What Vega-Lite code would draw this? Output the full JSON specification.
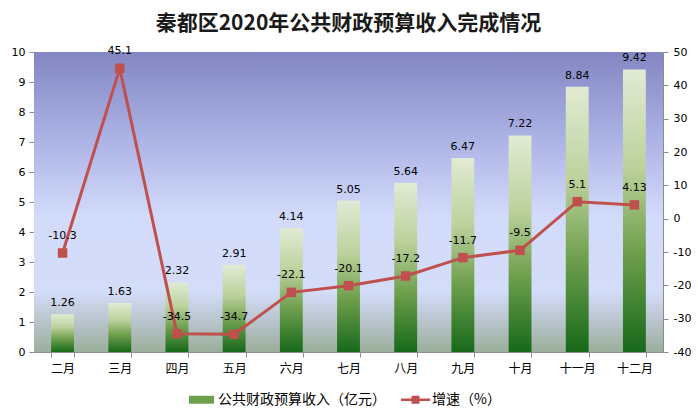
{
  "$schema": "https://vega.github.io/schema/vega-lite/v6.json",
  "width": 629,
  "height": 300,
  "autosize": "none",
  "padding": {"left": 34, "top": 52, "right": 35, "bottom": 63},
  "background": "white",
  "config": {
    "view": {"stroke": null},
    "font": "Noto Sans CJK SC",
    "locale": {
      "number": {"decimal": ".", "thousands": ",", "grouping": [3], "currency": ["$", ""], "minus": "-"}
    },
    "axis": {
      "domainColor": "#8c8c8c",
      "tickColor": "#8c8c8c",
      "tickSize": 5,
      "labelColor": "#000000",
      "labelFontSize": 11,
      "labelFont": "DejaVu Sans",
      "titleFontSize": 12
    }
  },
  "title": {
    "text": "秦都区2020年公共财政预算收入完成情况",
    "font": "Noto Sans CJK SC",
    "fontSize": 21,
    "fontWeight": "bold",
    "color": "#1a1a1a",
    "anchor": "middle",
    "offset": 11
  },
  "datasets": {
    "rows": [
      {"month": "二月", "series": "公共财政预算收入（亿元）", "value": 1.26},
      {"month": "三月", "series": "公共财政预算收入（亿元）", "value": 1.63},
      {"month": "四月", "series": "公共财政预算收入（亿元）", "value": 2.32},
      {"month": "五月", "series": "公共财政预算收入（亿元）", "value": 2.91},
      {"month": "六月", "series": "公共财政预算收入（亿元）", "value": 4.14},
      {"month": "七月", "series": "公共财政预算收入（亿元）", "value": 5.05},
      {"month": "八月", "series": "公共财政预算收入（亿元）", "value": 5.64},
      {"month": "九月", "series": "公共财政预算收入（亿元）", "value": 6.47},
      {"month": "十月", "series": "公共财政预算收入（亿元）", "value": 7.22},
      {"month": "十一月", "series": "公共财政预算收入（亿元）", "value": 8.84},
      {"month": "十二月", "series": "公共财政预算收入（亿元）", "value": 9.42},
      {"month": "二月", "series": "增速（%）", "value": -10.3},
      {"month": "三月", "series": "增速（%）", "value": 45.1},
      {"month": "四月", "series": "增速（%）", "value": -34.5},
      {"month": "五月", "series": "增速（%）", "value": -34.7},
      {"month": "六月", "series": "增速（%）", "value": -22.1},
      {"month": "七月", "series": "增速（%）", "value": -20.1},
      {"month": "八月", "series": "增速（%）", "value": -17.2},
      {"month": "九月", "series": "增速（%）", "value": -11.7},
      {"month": "十月", "series": "增速（%）", "value": -9.5},
      {"month": "十一月", "series": "增速（%）", "value": 5.1},
      {"month": "十二月", "series": "增速（%）", "value": 4.13}
    ]
  },
  "data": {"name": "rows"},
  "encoding": {
    "x": {
      "field": "month",
      "type": "nominal",
      "sort": null,
      "title": null,
      "scale": {"paddingInner": 0.6, "paddingOuter": 0.3},
      "axis": {
        "labelAngle": 0,
        "labelFont": "Noto Sans CJK SC",
        "labelFontSize": 12,
        "labelPadding": 6,
        "tickBand": "extent",
        "domainColor": "#8c8c8c"
      }
    }
  },
  "layer": [
    {
      "data": {"values": [{}]},
      "mark": {
        "type": "rect",
        "color": {
          "gradient": "linear",
          "x1": 0, "y1": 0, "x2": 0, "y2": 1,
          "stops": [
            {"offset": 0, "color": "#8386c2"},
            {"offset": 0.3, "color": "#adb4e6"},
            {"offset": 0.55, "color": "#d3dbfb"},
            {"offset": 0.8, "color": "#d3dcf8"},
            {"offset": 0.9, "color": "#b8c4cc"},
            {"offset": 1, "color": "#9bae9a"}
          ]
        }
      },
      "encoding": {"x": {"value": 0}, "x2": {"value": 629}, "y": {"value": 0}, "y2": {"value": 300}}
    },
    {
      "transform": [{"filter": "datum.series === '公共财政预算收入（亿元）'"}],
      "encoding": {
        "y": {
          "field": "value",
          "type": "quantitative",
          "title": null,
          "scale": {"domain": [0, 10], "nice": false},
          "axis": {
            "values": [0, 1, 2, 3, 4, 5, 6, 7, 8, 9, 10],
            "grid": true,
            "gridColor": "#ffffff",
            "gridOpacity": 0.55,
            "labelPadding": 4
          }
        }
      },
      "layer": [
        {
          "mark": {
            "type": "bar",
            "color": {
              "gradient": "linear",
              "x1": 0, "y1": 0, "x2": 0, "y2": 1,
              "stops": [
                {"offset": 0, "color": "#e1ebd4"},
                {"offset": 0.35, "color": "#bcd19c"},
                {"offset": 0.65, "color": "#6e9f4c"},
                {"offset": 1, "color": "#16691a"}
              ]
            }
          }
        },
        {
          "mark": {"type": "text", "dy": -11, "fontSize": 11, "font": "DejaVu Sans", "color": "#000000"},
          "encoding": {"text": {"field": "value", "type": "quantitative", "format": ".2f"}}
        }
      ]
    },
    {
      "encoding": {
        "y": {
          "field": "value",
          "type": "quantitative",
          "title": null,
          "scale": {"domain": [-40, 50], "nice": false},
          "axis": {
            "orient": "right",
            "values": [-40, -30, -20, -10, 0, 10, 20, 30, 40, 50],
            "grid": false,
            "labelPadding": 5
          }
        }
      },
      "layer": [
        {
          "transform": [{"filter": "datum.series === '增速（%）'"}],
          "mark": {"type": "line", "color": "#c0504d", "strokeWidth": 3}
        },
        {
          "transform": [{"filter": "datum.series === '增速（%）'"}],
          "mark": {"type": "point", "shape": "square", "filled": true, "opacity": 1, "size": 90, "color": "#c0504d"}
        },
        {
          "transform": [{"filter": "datum.series === '增速（%）'"}],
          "mark": {"type": "text", "dy": -17, "fontSize": 11, "font": "DejaVu Sans", "color": "#000000"},
          "encoding": {"text": {"field": "value", "type": "quantitative", "format": "~g"}}
        },
        {
          "mark": {"type": "point", "filled": true, "opacity": 0},
          "encoding": {
            "color": {
              "field": "series",
              "type": "nominal",
              "scale": {"domain": ["公共财政预算收入（亿元）", "增速（%）"], "range": ["#6e9f4c", "#c0504d"]},
              "legend": {
                "title": null,
                "orient": "none",
                "legendX": 154,
                "legendY": 334,
                "direction": "horizontal",
                "symbolOpacity": 1,
                "symbolSize": 700,
                "symbolStrokeWidth": 0,
                "labelFont": "Noto Sans CJK SC",
                "labelFontSize": 14,
                "labelColor": "#000000",
                "labelOffset": 3,
                "labelLimit": 300,
                "columnPadding": 14,
                "encode": {
                  "symbols": {
                    "update": {
                      "fill": [
                        {"test": "datum.value === '增速（%）'", "value": "#c0504d"},
                        {"value": {
                          "gradient": "linear",
                          "x1": 0, "y1": 0, "x2": 0, "y2": 1,
                          "stops": [
                            {"offset": 0, "color": "#e1ebd4"},
                            {"offset": 0.5, "color": "#8fb56a"},
                            {"offset": 1, "color": "#16691a"}
                          ]
                        }}
                      ]
                    }
                  }
                }
              }
            },
            "shape": {
              "field": "series",
              "type": "nominal",
              "scale": {
                "domain": ["公共财政预算收入（亿元）", "增速（%）"],
                "range": [
                  "M-0.95,-0.3L0.95,-0.3L0.95,0.3L-0.95,0.3Z",
                  "M-1.1,-0.09L1.1,-0.09L1.1,0.09L-1.1,0.09Z M-0.3,-0.3L0.3,-0.3L0.3,0.3L-0.3,0.3Z"
                ]
              },
              "legend": null
            }
          }
        }
      ]
    }
  ],
  "resolve": {"scale": {"y": "independent"}, "axis": {"y": "independent"}}
}
